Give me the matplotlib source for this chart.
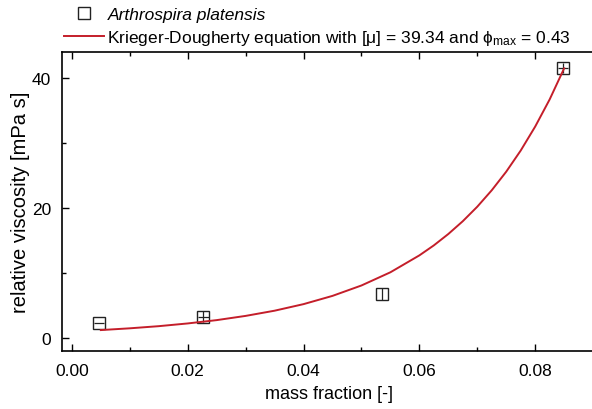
import matplotlib
matplotlib.use('Agg')
import matplotlib.pyplot as plt
from matplotlib.ticker import MultipleLocator

# measured points
mass_frac = [0.0047, 0.0227, 0.0535, 0.0848]
rel_visc = [2.3, 3.3, 6.8, 41.5]
xerr = [0.0009, 0.0009, 0.0, 0.0009]
yerr = [0.0, 0.8, 0.9, 0.8]

# Krieger-Dougherty fit line
kd_x = [0.005, 0.010, 0.015, 0.020, 0.025, 0.030, 0.035, 0.040, 0.045,
        0.050, 0.055, 0.060, 0.0625, 0.065, 0.0675, 0.070, 0.0725, 0.075,
        0.0775, 0.080, 0.0825, 0.085]
kd_y = [1.22, 1.49, 1.82, 2.24, 2.75, 3.40, 4.20, 5.21, 6.48,
        8.08, 10.11, 12.71, 14.25, 16.00, 17.97, 20.20, 22.73, 25.59,
        28.84, 32.53, 36.71, 41.49]

plt.rcParams['font.family'] = ['Liberation Sans', 'DejaVu Sans']
plt.rcParams['mathtext.default'] = 'regular'

fig = plt.figure(figsize=(5.92, 4.10), dpi=100)
ax = fig.add_axes([62 / 592, 1 - 352 / 410, 534 / 592, 299.3 / 410])

pts, = ax.plot(mass_frac, rel_visc, 's', ms=8.5, mfc='none', mec='#222222', mew=1.0)
ax.errorbar(mass_frac, rel_visc, xerr=xerr, yerr=yerr, fmt='none',
            ecolor='#222222', elinewidth=0.9, capsize=0)
fit, = ax.plot(kd_x, kd_y, '-', color='#c41e2a', lw=1.4)

ax.set_xlim(-0.0017, 0.0905)
ax.set_ylim(-2.0, 44.05)
ax.xaxis.set_major_locator(MultipleLocator(0.02))
ax.xaxis.set_minor_locator(MultipleLocator(0.01))
ax.yaxis.set_major_locator(MultipleLocator(20))
ax.yaxis.set_minor_locator(MultipleLocator(10))
ax.xaxis.set_major_formatter(plt.FormatStrFormatter('%.2f'))
ax.tick_params(which='both', direction='in', top=True, right=False, labelsize=12.5, width=1.0)
ax.tick_params(which='major', length=5)
ax.tick_params(which='minor', length=3)
ax.tick_params(axis='x', which='major', pad=9)
ax.tick_params(axis='y', which='major', pad=8)
for s in ax.spines.values():
    s.set_linewidth(1.2)

ax.set_xlabel('mass fraction [-]', fontsize=13, labelpad=5)
ax.set_ylabel('relative viscosity [mPa s]', fontsize=14.5, labelpad=1)

leg = fig.legend([pts, fit],
                 ['Arthrospira platensis',
                  r'Krieger-Dougherty equation with [μ] = 39.34 and ϕ$_{max}$ = 0.43'],
                 loc='upper left', bbox_to_anchor=(64 / 592, 0.98),
                 frameon=False, fontsize=12.5, borderpad=0, borderaxespad=0,
                 handlelength=2.3, handletextpad=0.2, labelspacing=0.35)
leg.get_texts()[0].set_style('italic')

fig.savefig('out.png', dpi=100)
